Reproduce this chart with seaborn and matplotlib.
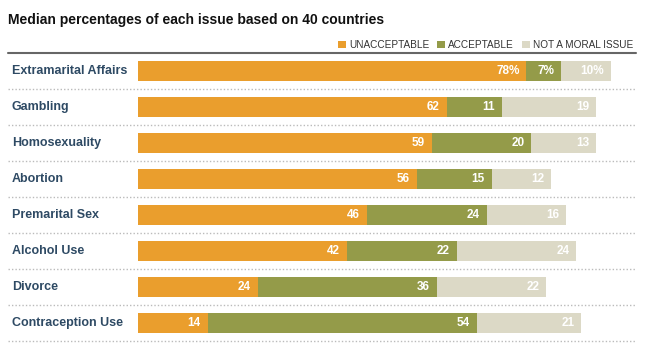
import numpy as np
import pandas as pd
import matplotlib
matplotlib.use("Agg")
import matplotlib.pyplot as plt
from matplotlib.patches import Patch
import seaborn as sns

# Data
issues = ["Extramarital Affairs", "Gambling", "Homosexuality", "Abortion",
          "Premarital Sex", "Alcohol Use", "Divorce", "Contraception Use"]
unacceptable = [78, 62, 59, 56, 46, 42, 24, 14]
acceptable = [7, 11, 20, 15, 24, 22, 36, 54]
not_moral = [10, 19, 13, 12, 16, 24, 22, 21]
series_names = ["UNACCEPTABLE", "ACCEPTABLE", "NOT A MORAL ISSUE"]

colors = ["#EA9E2D", "#949B49", "#DCD9C6"]
label_color = "#2E4A64"

df = pd.DataFrame({"issue": issues, "unacc": unacceptable,
                   "acc": acceptable, "nmi": not_moral})
df["cum1"] = df["unacc"]
df["cum2"] = df["unacc"] + df["acc"]
df["cum3"] = df["cum2"] + df["nmi"]

sns.set_theme(style="white")
plt.rcParams["font.family"] = ["Liberation Sans", "DejaVu Sans"]

W, H = 650, 364
fig = plt.figure(figsize=(6.5, 3.64), dpi=100)
# axes placed in pixel terms: x 138..636, y 53..341
ax = fig.add_axes([138 / W, 1 - 341 / H, (636 - 138) / W, (341 - 53) / H])

# stacked bars drawn as overlapping cumulative totals
for col, c in zip(["cum3", "cum2", "cum1"], colors[::-1]):
    sns.barplot(data=df, x=col, y="issue", orient="h", color=c,
                width=0.58, saturation=1, ax=ax, linewidth=0)

ax.set_xlim(0, 100)
ax.set_ylim(len(issues) - 0.5, -0.5)
ax.set_xlabel("")
ax.set_ylabel("")
ax.set_xticks([])
ax.set_yticks([])
for s in ax.spines.values():
    s.set_visible(False)

# value labels
for i in range(len(issues)):
    ends = [df["cum1"][i], df["cum2"][i], df["cum3"][i]]
    vals = [unacceptable[i], acceptable[i], not_moral[i]]
    for e, v in zip(ends, vals):
        txt = f"{v}%" if i == 0 else f"{v}"
        ax.annotate(txt, (e, i), xytext=(-5, 0), textcoords="offset points",
                    ha="right", va="center", color="white",
                    fontsize=8.5, fontweight="bold")
    # category labels
    ax.annotate(issues[i], (0, i), xycoords=("axes fraction", "data"),
                xytext=(-126, 0), textcoords="offset pixels",
                ha="left", va="center", color=label_color,
                fontsize=9, fontweight="bold")
    # dotted separators
    ax.axhline(i + 0.5, xmin=-130 / 498, xmax=1.0, color="#BBBBBB",
               lw=1, ls=(0, (1, 1.5)), clip_on=False)

# solid top rule
ax.axhline(-0.5, xmin=-130 / 498, xmax=1.0, color="#666666", lw=1.5,
           clip_on=False)

fig.text(8 / W, 1 - 20 / H, "Median percentages of each issue based on 40 countries",
         ha="left", va="center", fontsize=10, fontweight="bold", color="#111111")

handles = [Patch(facecolor=c, edgecolor="none") for c in colors]
ax.legend(handles, series_names, ncol=3, loc="lower right",
          bbox_to_anchor=(1.0, 1.0), frameon=False, fontsize=7.2,
          handlelength=0.8, handleheight=0.8, handletextpad=0.3,
          columnspacing=0.8, borderaxespad=0.2, borderpad=0.1,
          labelcolor="#333333")

plt.savefig("out.png", dpi=100)
